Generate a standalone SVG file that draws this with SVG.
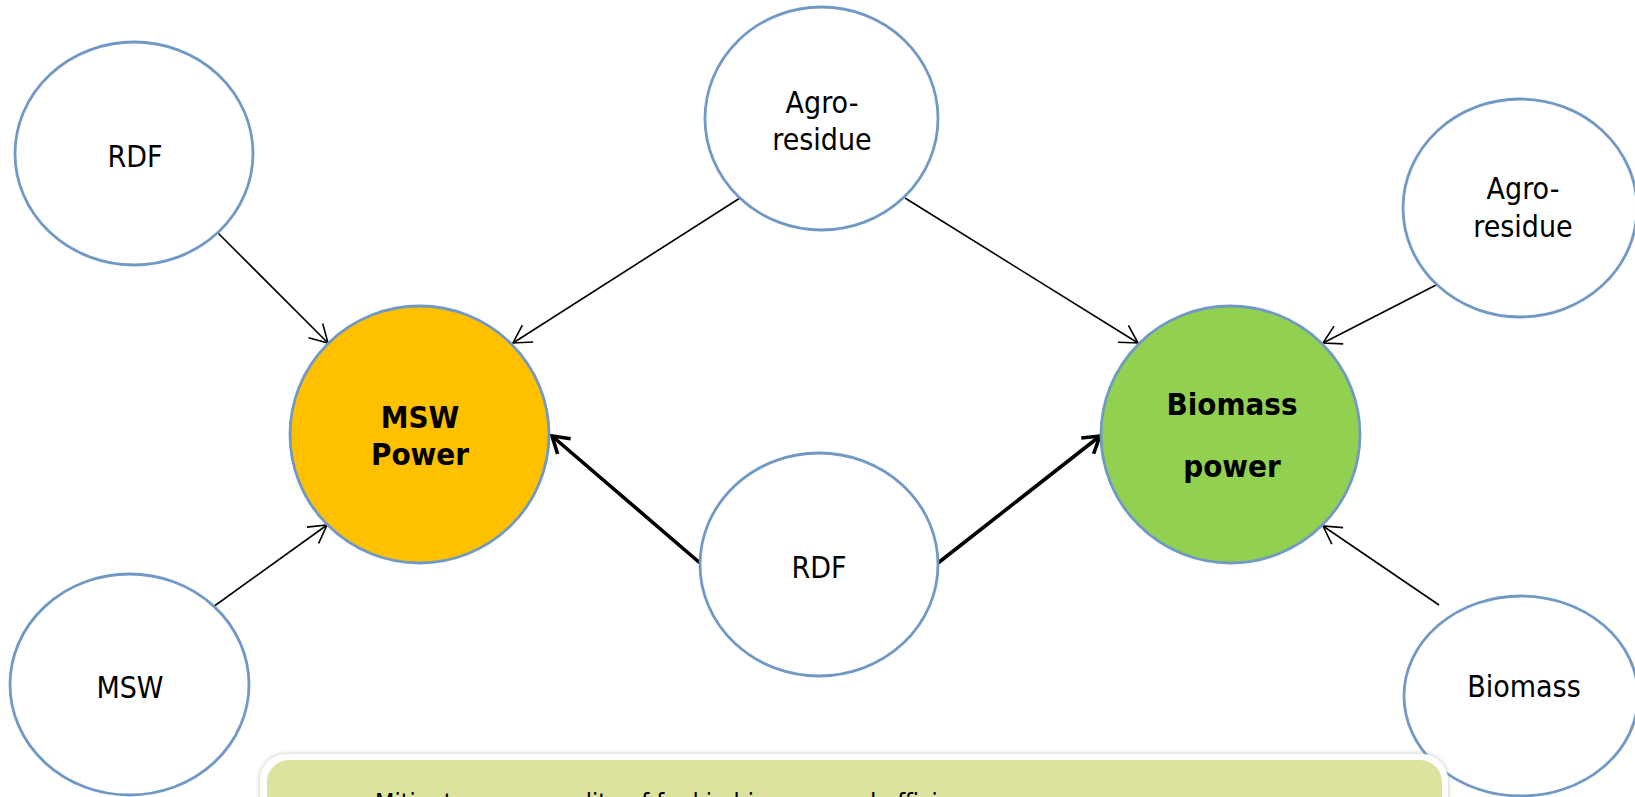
<svg xmlns="http://www.w3.org/2000/svg" width="1635" height="797" viewBox="0 0 1635 797">
  <style>
    .node { fill: #ffffff; stroke: #7199c5; stroke-width: 2.8; }
    .lbl { font-family: "DejaVu Sans Condensed", "DejaVu Sans", sans-serif; font-stretch: condensed; font-size: 30px; fill: #000000; text-anchor: middle; }
    .bold { font-weight: bold; font-size: 31px; }
    .thin { stroke: #000000; stroke-width: 1.6; fill: none; marker-end: url(#arrowThin); }
    .thick { stroke: #000000; stroke-width: 3.6; fill: none; marker-end: url(#arrowThick); }
    .note { font-family: "DejaVu Sans Condensed", "DejaVu Sans", sans-serif; font-stretch: condensed; font-size: 25px; fill: #000000; }
  </style>
  <defs>
    <marker id="arrowThin" markerUnits="userSpaceOnUse" markerWidth="40" markerHeight="40" viewBox="-30 -20 40 40" refX="0" refY="0" orient="auto">
      <path d="M-17.5,-10 L0,0 L-17.5,10" fill="none" stroke="#000000" stroke-width="1.6"/>
    </marker>
    <marker id="arrowThick" markerUnits="userSpaceOnUse" markerWidth="40" markerHeight="40" viewBox="-30 -20 40 40" refX="0" refY="0" orient="auto">
      <path d="M-16,-10 L0,0 L-16,10" fill="none" stroke="#000000" stroke-width="3.6" stroke-linejoin="miter"/>
    </marker>
    <filter id="soft" x="-5%" y="-20%" width="110%" height="140%">
      <feDropShadow dx="0" dy="0" stdDeviation="2.5" flood-color="#9a9a9a" flood-opacity="0.6"/>
    </filter>
  </defs>

  <!-- connectors -->
  <g id="connectors">
    <line class="thin" x1="218" y1="233" x2="328" y2="343"/>
    <line class="thin" x1="740" y1="198" x2="513" y2="343"/>
    <line class="thin" x1="905" y1="198" x2="1138" y2="343"/>
    <line class="thin" x1="1440" y1="283" x2="1323" y2="343"/>
    <line class="thin" x1="213" y1="607" x2="327" y2="525"/>
    <line class="thin" x1="1439" y1="605" x2="1323" y2="526"/>
    <line class="thick" x1="700" y1="563" x2="552" y2="436"/>
    <line class="thick" x1="938" y1="563" x2="1100" y2="436"/>
  </g>

  <g id="rdf-left">
    <ellipse class="node" cx="134" cy="153.5" rx="119" ry="111.5"/>
    <text class="lbl" x="135" y="167">RDF</text>
  </g>

  <g id="agro-top">
    <ellipse class="node" cx="821.5" cy="118.5" rx="116.5" ry="111.5"/>
    <text class="lbl" x="822" y="113">Agro-</text>
    <text class="lbl" x="822" y="150">residue</text>
  </g>

  <g id="agro-right">
    <ellipse class="node" cx="1520" cy="208" rx="117" ry="109"/>
    <text class="lbl" x="1523" y="199">Agro-</text>
    <text class="lbl" x="1523" y="237">residue</text>
  </g>

  <g id="msw-power">
    <ellipse cx="419.5" cy="434.5" rx="129.5" ry="128.5" fill="#ffc000" stroke="#7199c5" stroke-width="2.8"/>
    <text class="lbl bold" x="420" y="428">MSW</text>
    <text class="lbl bold" x="420" y="465">Power</text>
  </g>

  <g id="biomass-power">
    <ellipse cx="1230.5" cy="434.5" rx="129.5" ry="128.5" fill="#92d050" stroke="#7199c5" stroke-width="2.8"/>
    <text class="lbl bold" x="1232" y="415">Biomass</text>
    <text class="lbl bold" x="1232" y="477">power</text>
  </g>

  <g id="rdf-center">
    <ellipse class="node" cx="819" cy="564.5" rx="119" ry="111.5"/>
    <text class="lbl" x="819" y="578">RDF</text>
  </g>

  <g id="msw">
    <ellipse class="node" cx="129.5" cy="684.5" rx="119.5" ry="110.5"/>
    <text class="lbl" x="130" y="698">MSW</text>
  </g>

  <g id="biomass">
    <ellipse class="node" cx="1521" cy="696" rx="117" ry="100"/>
    <text class="lbl" x="1524" y="697">Biomass</text>
  </g>

  <!-- note panel at the bottom, running past the lower edge -->
  <g id="note">
    <rect x="260" y="754" width="1188" height="80" rx="26" fill="#ffffff" filter="url(#soft)"/>
    <rect x="267" y="760" width="1175" height="70" rx="22" fill="#dde29e"/>
    <text class="note" x="375" y="811">Mitigates poor quality of fuel in biomass and efficiency</text>
  </g>
</svg>
